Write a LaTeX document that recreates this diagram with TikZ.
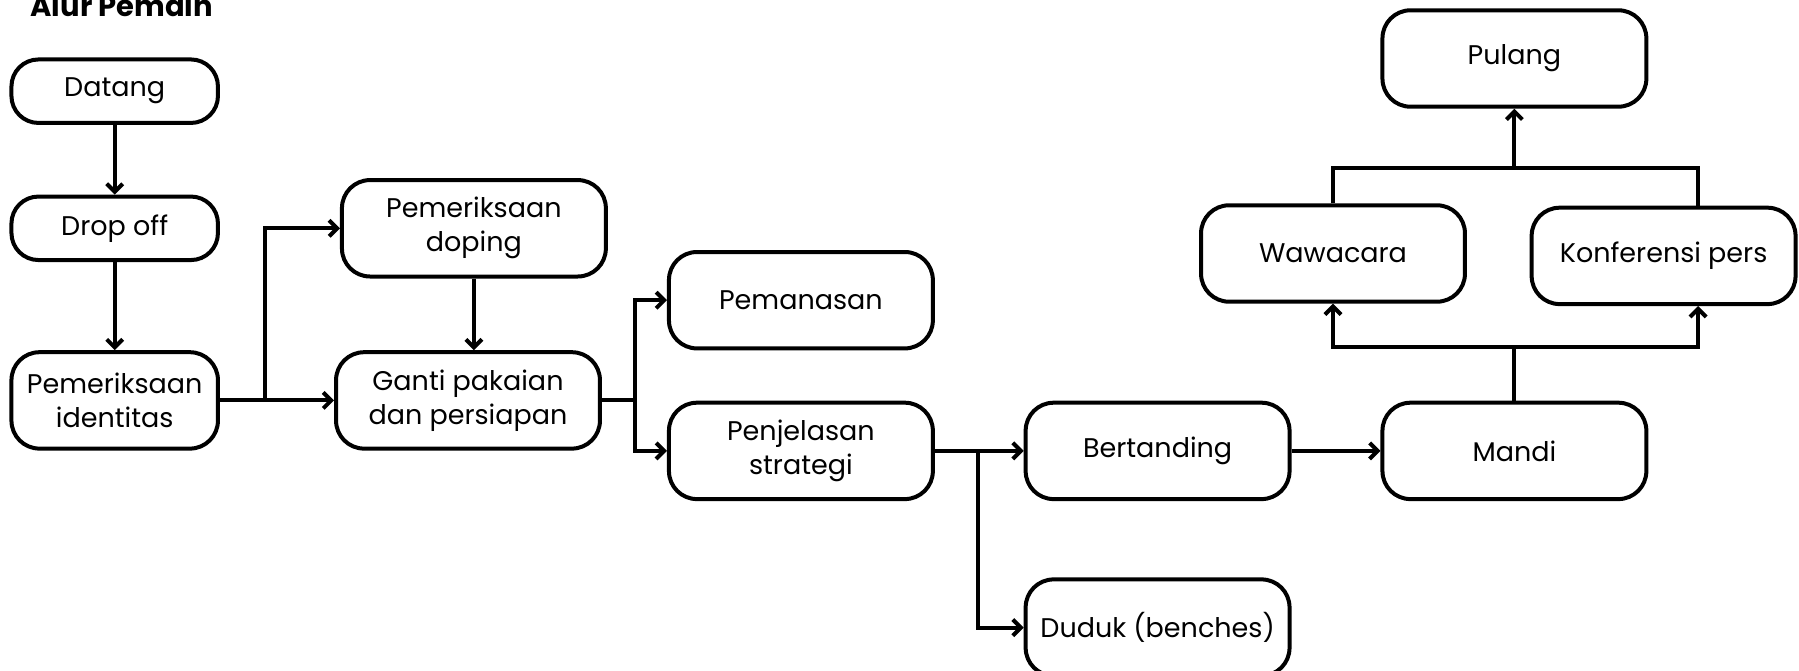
\documentclass[tikz,border=0pt]{standalone}
\usepackage{fontspec}
\setmainfont{Poppins}
\usetikzlibrary{arrows.meta}
\tikzset{
  box/.style={draw, line width=4pt, rounded corners=28pt, align=center,
    minimum width=263.9pt, minimum height=96.4pt, inner sep=0pt,
    font=\fontsize{27}{34}\selectfont},
  smallbox/.style={box, minimum width=206.5pt, minimum height=63.5pt, rounded corners=27pt},
  link/.style={line width=4pt},
  arr/.style={link, -{Straight Barb[length=8pt,width=16pt]}}
}
\begin{document}
\begin{tikzpicture}[x=1pt,y=-1pt]
\useasboundingbox (0,0) rectangle (1799,671);
\node[anchor=base west, font=\fontsize{29}{32}\selectfont\bfseries] (title) at (27,17) {Alur Pemain};
\node[smallbox] (dat) at (114.7,91.2) {Datang};
\node[smallbox] (drop) at (114.7,228.3) {Drop off};
\node[smallbox, minimum height=96.4pt, rounded corners=28pt] (idn) at (114.7,400.4) {Pemeriksaan\\identitas};
\node[box] (dop) at (473.9,228.3) {Pemeriksaan\\doping};
\node[box] (gan) at (468,400.4) {Ganti pakaian\\dan persiapan};
\node[box] (pma) at (800.9,300.2) {Pemanasan};
\node[box] (pje) at (800.9,450.9) {Penjelasan\\strategi};
\node[box] (ber) at (1157.6,450.9) {Bertanding};
\node[box] (dud) at (1157.6,627.6) {Duduk (benches)};
\node[box] (man) at (1514.4,450.9) {Mandi};
\node[box] (waw) at (1333,253.5) {Wawacara};
\node[box] (kon) at (1663.6,255.9) {Konferensi pers};
\node[box] (pul) at (1514.4,58.5) {Pulang};

\draw[arr] (dat) -- (drop);
\draw[arr] (drop) -- (idn);
\coordinate (b1) at (265,400.4);
\draw[arr] (idn.east) -- (gan.west);
\draw[arr] (b1) |- (dop.west);
\draw[arr] (dop.south) -- (dop.south |- gan.north);
\coordinate (b2) at (634.5,400.4);
\draw[link] (gan.east) -- (b2);
\draw[arr] (b2) |- (pma.west);
\draw[arr] (b2) |- (pje.west);
\coordinate (b3) at (977.5,450.9);
\draw[arr] (pje.east) -- (ber.west);
\draw[arr] (b3) |- (dud.west);
\draw[arr] (ber.east) -- (man.west);
\coordinate (b4) at (1514.4,346.6);
\draw[link] (man.north) -- (b4);
\draw[arr] (b4) -| (waw.south);
\draw[arr] (b4) -| ([xshift=34.5pt]kon.south);
\coordinate (b5) at (1514.4,168.5);
\draw[link] (waw.north) |- ([xshift=34.5pt]kon.north |- b5) -- ([xshift=34.5pt]kon.north);
\draw[arr] (b5) -- (pul.south);
\end{tikzpicture}
\end{document}
